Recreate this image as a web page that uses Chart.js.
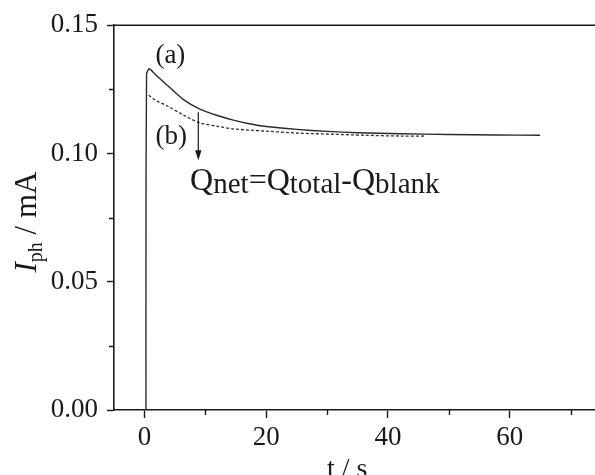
<!DOCTYPE html>
<html lang="en">
<head>
    <meta charset="UTF-8">
    <title>Photocurrent transient</title>
    <script src="https://cdn.jsdelivr.net/npm/chart.js"></script>
    <style>
        html, body {
            margin: 0;
            padding: 0;
            background: #ffffff;
            overflow: hidden;
        }
        .chart-box {
            position: relative;
            width: 601px;  /* plot runs to t = 75, just past the window edge */
            height: 475px;
        }
    </style>
</head>
<body>
    <div class="chart-box">
        <canvas id="transientChart"></canvas>
    </div>

    <script>
        // (a) total photocurrent, sample present
        const tTotal = [0.25, 0.25, 0.35, 0.8, 2, 3.7, 6.4, 9.2, 12, 14.6, 17, 20, 25, 30, 35, 42, 50, 58, 65];
        const iTotal = [0, 0.056, 0.131, 0.1330, 0.1303, 0.1267, 0.1210, 0.1172, 0.1148, 0.1130, 0.1117, 0.1105, 0.1094, 0.1086, 0.1081, 0.1077, 0.1074, 0.1072, 0.1071];

        // (b) blank
        const tBlank = [0.7, 2, 3.7, 6.4, 9, 12, 14.6, 20, 25.6, 31, 36, 42, 46];
        const iBlank = [0.1227, 0.1205, 0.1186, 0.1150, 0.1120, 0.1106, 0.1096, 0.1087, 0.1079, 0.1075, 0.1071, 0.1068, 0.1068];

        const xTicks = [0, 10, 20, 30, 40, 50, 60, 70];
        const yTicks = [0, 0.025, 0.05, 0.075, 0.1, 0.125, 0.15];

        const serif = "'Liberation Serif', 'Times New Roman', serif";
        const ink = '#1a1a1a';

        const toPoints = (ts, is) => ts.map((t, k) => ({ x: t, y: is[k] }));
        const isMajorX = (v) => v % 20 === 0;
        const isMajorY = (v) => Math.round(v * 1000) % 50 === 0;

        // text, arrow, short minor ticks and top frame line drawn over the plot
        const annotations = {
            id: 'annotations',
            afterDraw(chart) {
                const { ctx, chartArea, scales } = chart;
                const x = scales.x, y = scales.y;
                ctx.save();
                ctx.fillStyle = ink;
                ctx.strokeStyle = ink;

                // top frame line
                ctx.lineWidth = 1.6;
                ctx.beginPath();
                ctx.moveTo(chartArea.left - 0.8, chartArea.top);
                ctx.lineTo(chartArea.right, chartArea.top);
                ctx.stroke();

                // minor ticks, shorter than the labelled ones
                ctx.lineWidth = 1.4;
                ctx.beginPath();
                x.ticks.filter(t => !isMajorX(t.value)).forEach(t => {
                    const px = Math.round(x.getPixelForValue(t.value)) + 0.5;
                    ctx.moveTo(px, chartArea.bottom);
                    ctx.lineTo(px, chartArea.bottom + 5);
                });
                y.ticks.filter(t => !isMajorY(t.value)).forEach(t => {
                    const py = Math.round(y.getPixelForValue(t.value)) + 0.5;
                    ctx.moveTo(chartArea.left, py);
                    ctx.lineTo(chartArea.left - 5, py);
                });
                ctx.stroke();

                ctx.textBaseline = 'alphabetic';
                ctx.textAlign = 'left';
                ctx.font = '27px ' + serif;
                ctx.fillText('(a)', x.getPixelForValue(1.8), y.getPixelForValue(0.1352));
                ctx.fillText('(b)', x.getPixelForValue(1.8), y.getPixelForValue(0.1036));

                // arrow from (b) down to the net charge label
                const ax = x.getPixelForValue(8.85);
                const ay0 = y.getPixelForValue(0.1161);
                const ay1 = y.getPixelForValue(0.0974);
                ctx.lineWidth = 1.2;
                ctx.beginPath();
                ctx.moveTo(ax, ay0);
                ctx.lineTo(ax, ay1 - 8);
                ctx.stroke();
                ctx.beginPath();
                ctx.moveTo(ax - 3.2, ay1 - 10);
                ctx.lineTo(ax + 3.2, ay1 - 10);
                ctx.lineTo(ax, ay1);
                ctx.closePath();
                ctx.fill();

                // Q_net = Q_total - Q_blank
                const parts = [
                    ['Q', false], ['net', true], ['=Q', false], ['total', true],
                    ['-Q', false], ['blank', true]
                ];
                let qx = x.getPixelForValue(7.5);
                const qy = y.getPixelForValue(0.0857);
                parts.forEach(([s, sub]) => {
                    ctx.font = (sub ? '29px ' : '32px ') + serif;
                    ctx.fillText(s, qx, qy + (sub ? 3 : 0));
                    qx += ctx.measureText(s).width;
                });

                // x axis title
                ctx.font = '28px ' + serif;
                ctx.textAlign = 'center';
                ctx.fillText('t / s', x.getPixelForValue(33.3), 477);

                // y axis title, rotated: I (italic) with subscript ph
                ctx.translate(36, 222);
                ctx.rotate(-Math.PI / 2);
                const segs = [
                    ['I', 'italic 31px ' + serif, 0],
                    ['ph', '20px ' + serif, 6],
                    [' / mA', '31px ' + serif, 0]
                ];
                let total = 0;
                segs.forEach(([s, f]) => { ctx.font = f; total += ctx.measureText(s).width; });
                let tx = -total / 2;
                ctx.textAlign = 'left';
                segs.forEach(([s, f, dy]) => {
                    ctx.font = f;
                    ctx.fillText(s, tx, dy);
                    tx += ctx.measureText(s).width;
                });
                ctx.restore();
            }
        };

        new Chart(document.getElementById('transientChart'), {
            type: 'line',
            data: {
                datasets: [{
                    label: '(a)',
                    data: toPoints(tTotal, iTotal),
                    borderColor: '#2a2a2a',
                    borderWidth: 1.4,
                    pointRadius: 0,
                    tension: 0.2
                }, {
                    label: '(b)',
                    data: toPoints(tBlank, iBlank),
                    borderColor: '#333333',
                    borderWidth: 1.3,
                    borderDash: [3, 2],
                    pointRadius: 0,
                    tension: 0.3
                }]
            },
            options: {
                responsive: true,
                maintainAspectRatio: false,
                animation: false,
                layout: { padding: { top: 25, right: 0, bottom: 0, left: 0 } },
                plugins: {
                    legend: { display: false },
                    tooltip: { enabled: false }
                },
                scales: {
                    x: {
                        type: 'linear',
                        min: -5,
                        max: 75,
                        afterBuildTicks: (scale) => { scale.ticks = xTicks.map(v => ({ value: v })); },
                        afterFit: (scale) => { scale.height = 65; },
                        ticks: {
                            autoSkip: false,
                            maxRotation: 0,
                            padding: 4,
                            color: ink,
                            font: { family: serif, size: 27 },
                            callback: (v) => (isMajorX(v) ? String(v) : '')
                        },
                        grid: {
                            drawOnChartArea: false,
                            tickLength: 8,
                            tickWidth: 1.4,
                            tickColor: (c) => (c.tick && isMajorX(c.tick.value) ? ink : 'rgba(0,0,0,0)'),
                            color: ink
                        },
                        border: { color: ink, width: 1.6 }
                    },
                    y: {
                        min: 0,
                        max: 0.15,
                        afterBuildTicks: (scale) => { scale.ticks = yTicks.map(v => ({ value: v })); },
                        afterFit: (scale) => { scale.width = 114; },
                        ticks: {
                            autoSkip: false,
                            padding: 9,
                            color: ink,
                            font: { family: serif, size: 27 },
                            callback: (v) => (isMajorY(v) ? v.toFixed(2) : '')
                        },
                        grid: {
                            drawOnChartArea: false,
                            tickLength: 7,
                            tickWidth: 1.4,
                            tickColor: (c) => (c.tick && isMajorY(c.tick.value) ? ink : 'rgba(0,0,0,0)'),
                            color: ink
                        },
                        border: { color: ink, width: 1.6 }
                    }
                }
            },
            plugins: [annotations]
        });
    </script>
</body>
</html>
